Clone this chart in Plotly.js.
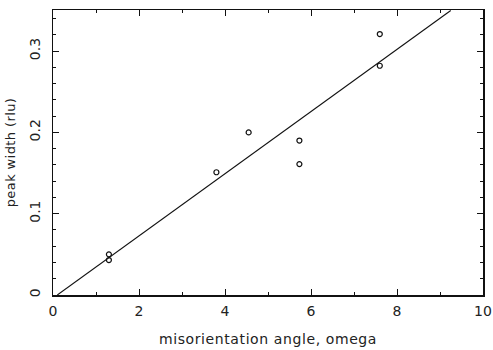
<!DOCTYPE html>
<html><head><meta charset="utf-8">
<script src="https://cdn.plot.ly/plotly-3.0.1.min.js"></script>
<style>html,body{margin:0;padding:0;background:#fff}#chart{width:493px;height:350px}
.xtitle{letter-spacing:0.6px}.ytitle{letter-spacing:0.4px}</style>
</head><body><div id="chart"></div>
<script>
// Measured points
const angleX = [1.3, 1.3, 3.8, 4.55, 5.73, 5.73, 7.6, 7.6];
const widthY = [0.050, 0.043, 0.151, 0.200, 0.190, 0.161, 0.321, 0.282];
// Fitted line
const fitX = [0.1, 9.25];
const fitY = [0.0, 0.35];

const tickFont = {family: 'DejaVu Sans, sans-serif', size: 14, color: '#222'};
const axisCommon = {
  showgrid: false, zeroline: false, showline: true, linecolor: '#111', linewidth: 1.5,
  mirror: 'ticks', ticks: 'inside', ticklen: 6, tickwidth: 1, tickcolor: '#111',
  tickfont: tickFont, ticklabeloverflow: 'allow'
};

const data = [
  {x: fitX, y: fitY, mode: 'lines', line: {color: '#111', width: 1.1}, hoverinfo: 'skip'},
  {x: angleX, y: widthY, mode: 'markers',
   marker: {symbol: 'circle-open', size: 5, color: '#111', line: {width: 1.2}}}
];

const layout = {
  width: 493, height: 350,
  margin: {l: 53, r: 10, t: 10, b: 55},
  paper_bgcolor: '#fff', plot_bgcolor: '#fff',
  showlegend: false,
  xaxis: Object.assign({}, axisCommon, {
    range: [0, 10], tickvals: [0, 2, 4, 6, 8, 10], ticktext: ['0','2','4','6','8','10'],
    ticklabelstandoff: 3,
    minor: {ticks: 'inside', tickvals: [1,3,5,7,9], ticklen: 3, tickcolor: '#111'},
    title: {text: 'misorientation angle, omega', font: {family: 'DejaVu Sans, sans-serif', size: 14, color: '#222'}, standoff: 16}
  }),
  yaxis: Object.assign({}, axisCommon, {
    range: [0, 0.3506], tickvals: [0, 0.1, 0.2, 0.3], ticktext: ['0','0.1','0.2','0.3'],
    tickangle: -90, ticklabelstandoff: 6,
    minor: {ticks: 'inside', dtick: 0.02, ticklen: 3, tickcolor: '#111'},
    title: {text: 'peak width (rlu)', font: {family: 'DejaVu Sans, sans-serif', size: 13, color: '#222'}, standoff: 8}
  })
};

Plotly.newPlot('chart', data, layout, {staticPlot: true, displayModeBar: false});
</script></body></html>
